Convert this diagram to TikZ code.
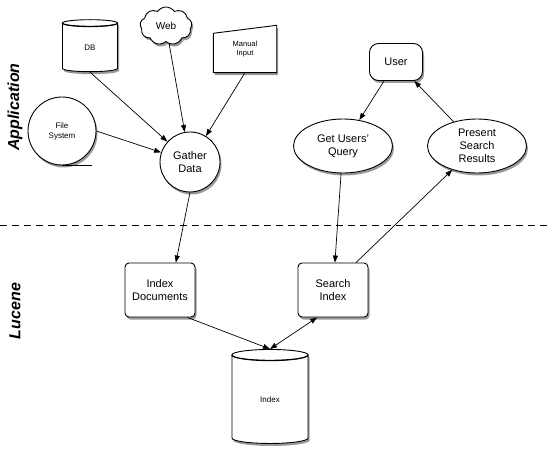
\documentclass[tikz,border=0pt]{standalone}
\usepackage{fontspec}
\setmainfont{Liberation Sans}
\usepackage{tikz}
\usetikzlibrary{arrows.meta,shapes.geometric,shapes.symbols,shadows,positioning,calc}
\pgfdeclarelayer{back}
\pgfsetlayers{back,main}
\tikzset{
    flow/.style={-{Triangle[length=7pt, width=5pt]}, line width=0.7pt},
    twoway/.style={{Triangle[length=7pt, width=5pt]}-{Triangle[length=7pt, width=5pt]}, line width=0.7pt},
    shade/.style={drop shadow={shadow xshift=1.5pt, shadow yshift=-2.5pt, fill=black, opacity=0.4}},
    base/.style={draw, line width=0.9pt, fill=white, shade, align=center, inner sep=1pt},
    store/.style={base, cylinder, shape border rotate=90, aspect=0.5},
    proc/.style={base, circle},
    task/.style={base, ellipse, minimum width=99pt, minimum height=54pt},
    stepbox/.style={base, rectangle, rounded corners=4pt, minimum width=70pt, minimum height=54pt},
    layer/.style={rotate=90, font=\fontsize{16}{18}\selectfont\bfseries\itshape}
}
% front rim of a cylinder's lid
\newcommand{\lidrim}[1]{%
    \draw[line width=0.9pt] let \p1=(#1.before top), \p2=(#1.after top), \p3=(#1.top),
        \n1={abs(\x1-\x2)/2}, \n2={\y3-(\y1+\y2)/2} in
        ({(\x1+\x2)/2+\n1},{(\y1+\y2)/2}) arc[start angle=0, end angle=-180, x radius=\n1, y radius=\n2];}

\begin{document}
\begin{tikzpicture}[x=1pt, y=1pt, font=\fontsize{11}{13}\selectfont]
    \useasboundingbox (0,0) rectangle (548,453);

    % application side
    \node[store, minimum width=55pt, minimum height=52pt, font=\fontsize{8}{10}\selectfont] (db) at (90,405) {DB};
    \lidrim{db}
    \node[base, cloud, cloud puffs=9, cloud puff arc=110, aspect=1.5, minimum width=52pt, minimum height=38pt, font=\fontsize{10}{12}\selectfont] (web) at (166,427) {Web};
    \node[inner sep=0pt, minimum width=63pt, minimum height=47pt, font=\fontsize{7.5}{9}\selectfont, align=center] (manual) at (245,404) {Manual\\Input};
    \begin{pgfonlayer}{back}
        \draw[base] (manual.south west) -- ($(manual.north west)+(0,-8)$) -- (manual.north east) -- (manual.south east) -- cycle;
    \end{pgfonlayer}
    \node[proc, minimum size=68pt, font=\fontsize{8}{10}\selectfont] (fs) at (62,322) {File\\System};
    \draw[line width=0.9pt] (fs.south) -- ++(30,0);
    \node[proc, minimum size=60pt] (gather) at (190,291) {Gather\\Data};

    \node[base, rectangle, rounded corners=9pt, minimum width=53pt, minimum height=37pt] (user) at (396,391) {User};
    \node[task] (query) at (343,307) {Get Users'\\Query};
    \node[task] (present) at (477,307) {Present\\Search\\Results};

    % layer split
    \coordinate (split l) at (0,228);
    \coordinate (split r) at (548,228);
    \draw[dashed, dash pattern=on 7pt off 5pt, line width=0.7pt] (split l) -- (split r);

    % lucene side
    \node[stepbox] (idxdoc) at (160,163) {Index\\Documents};
    \node[stepbox] (search) at (333,163) {Search\\Index};
    \node[store, minimum width=76pt, minimum height=94pt, font=\fontsize{8}{10}\selectfont] (index) at (270,53) {Index};
    \lidrim{index}

    \node[layer] (app) at (15,346) {Application};
    \node[layer] (luc) at (15,142) {Lucene};

    \draw[flow] (db.south) -- (gather);
    \draw[flow] (web) -- (gather);
    \draw[flow] (manual.south) -- (gather);
    \draw[flow] (fs.east) -- (gather);
    \draw[flow] (gather.south) -- (idxdoc.60);
    \draw[flow] (user) -- (query);
    \draw[flow] (present) -- (user);
    \draw[flow] (query) -- (search);
    \draw[flow] (search.50) -- (present);
    \draw[flow] (idxdoc.-45) -- (index.north);
    \draw[twoway] (search.-120) -- (index.north);
\end{tikzpicture}
\end{document}
